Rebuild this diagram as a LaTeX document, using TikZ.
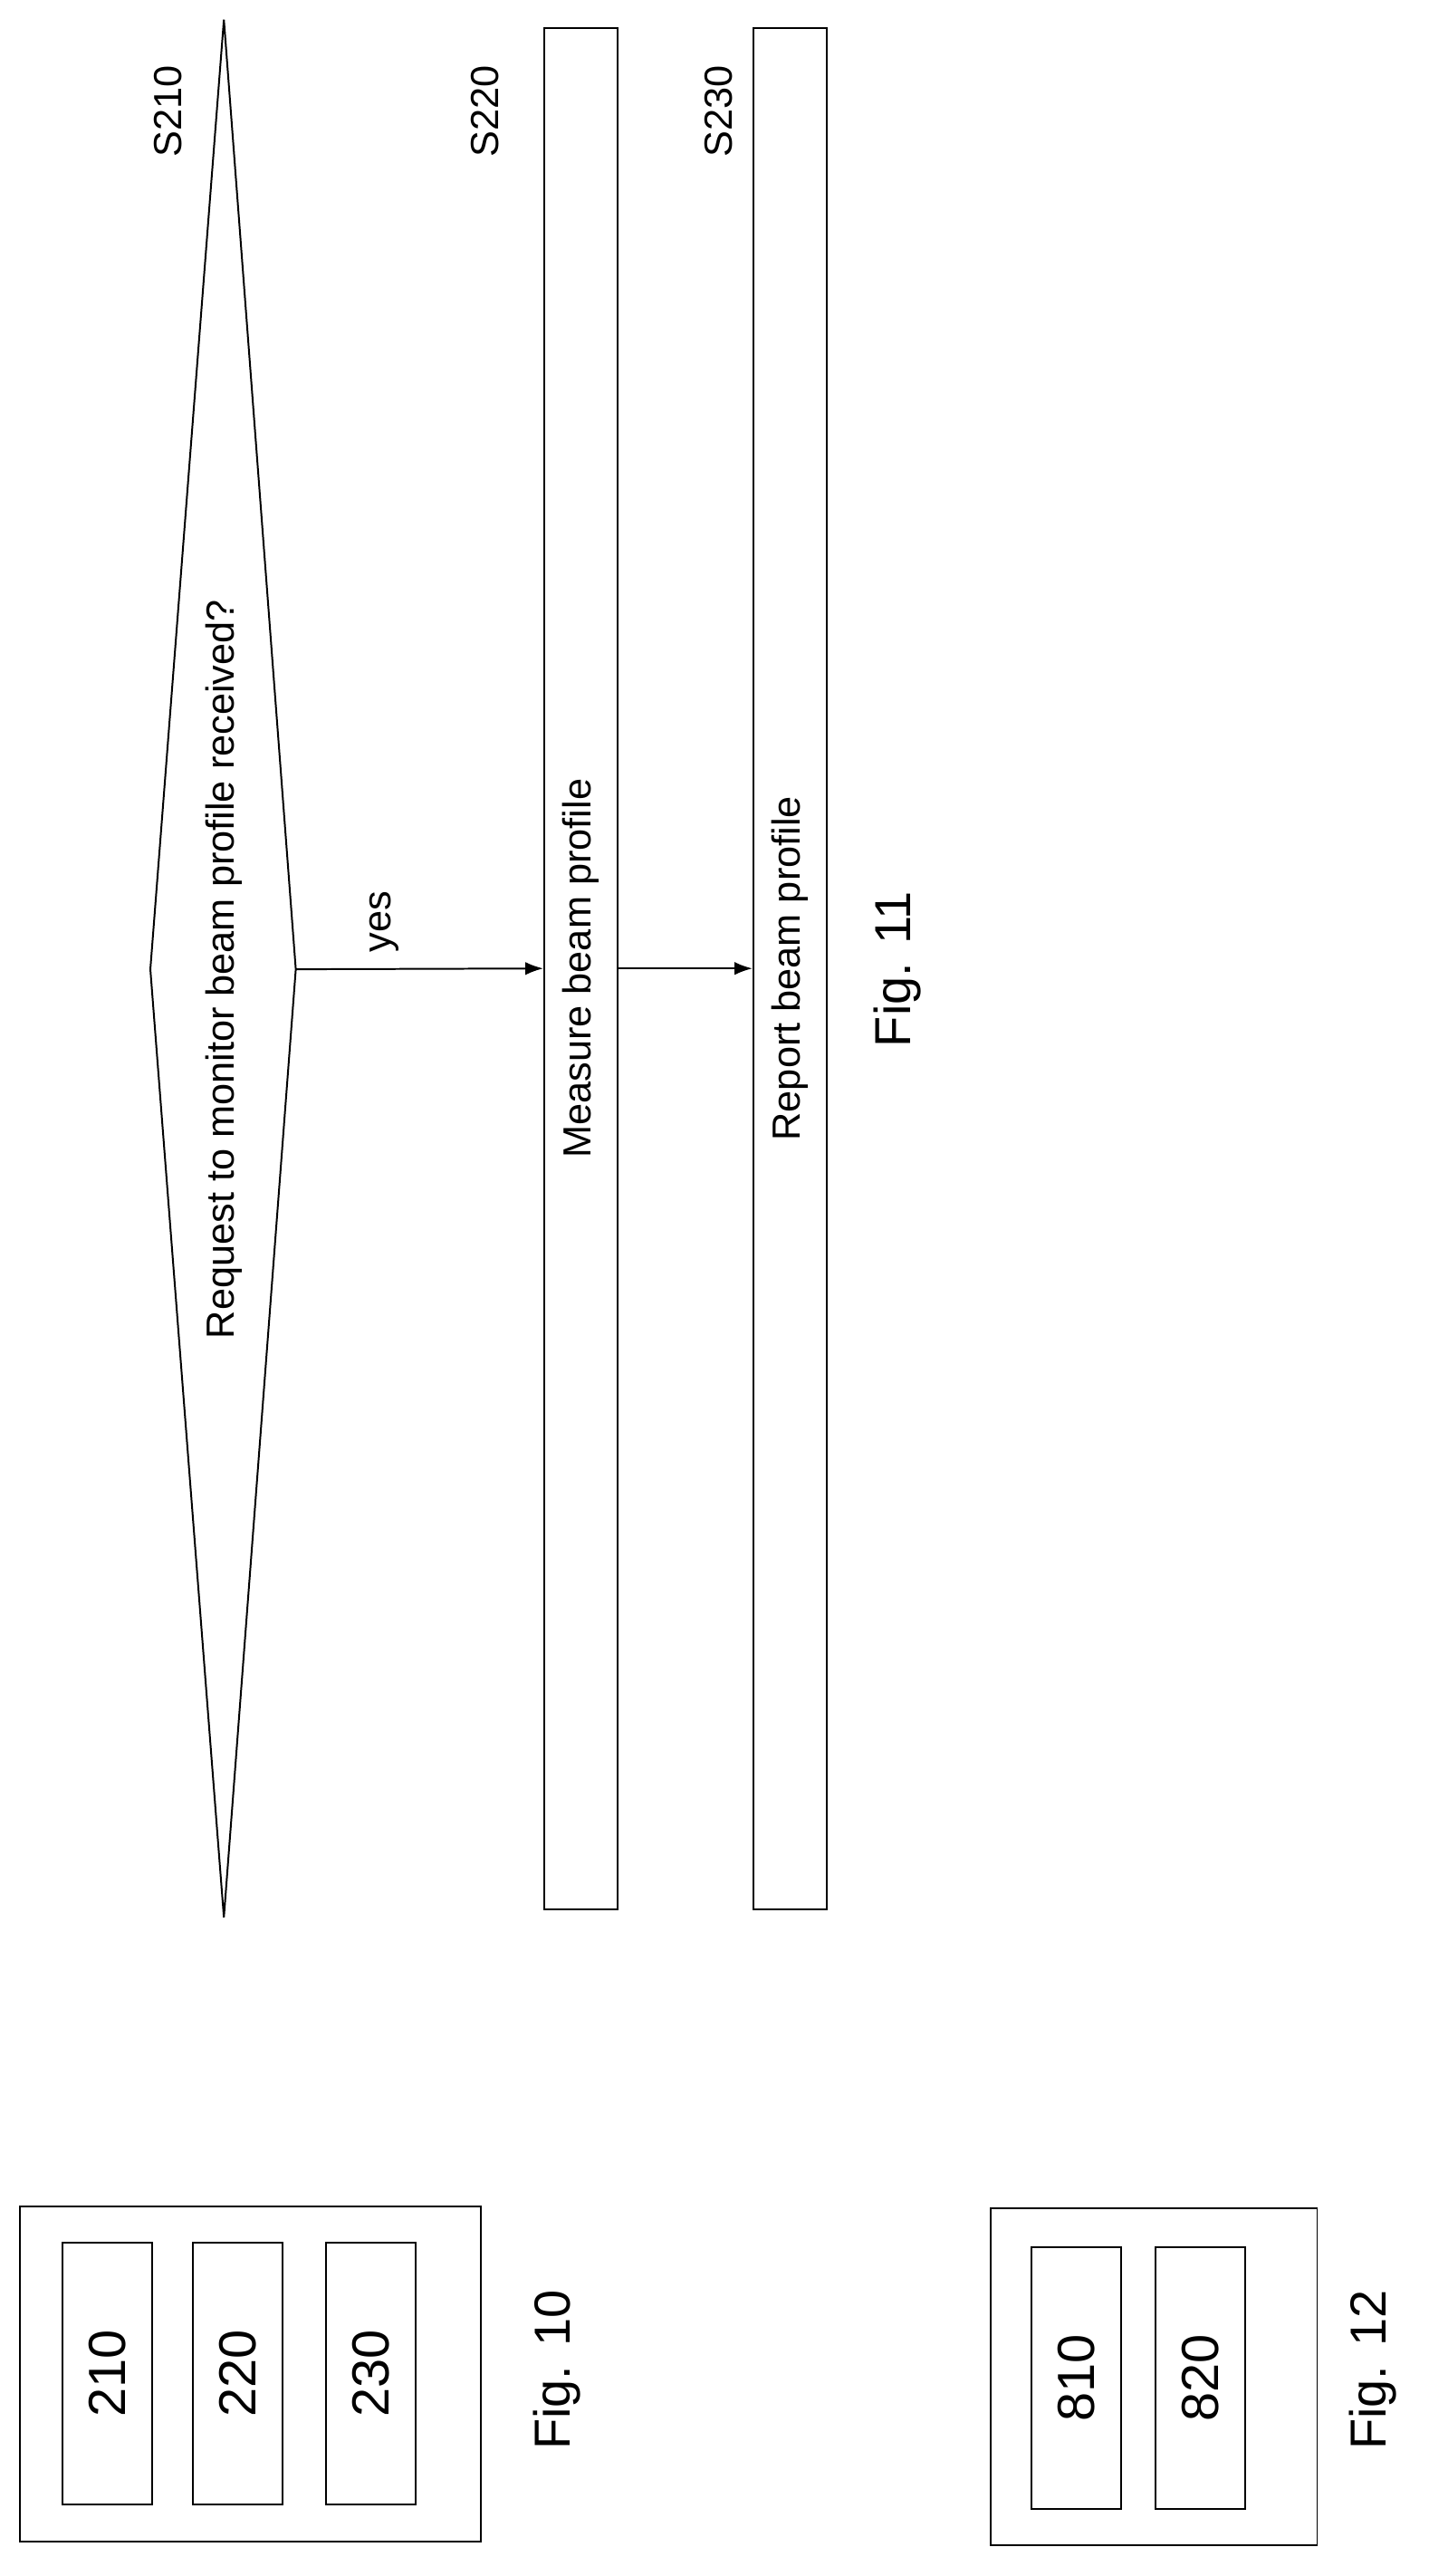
\documentclass[tikz,border=0pt]{standalone}
\usepackage{fontspec}
\setmainfont{Liberation Sans}
\usetikzlibrary{arrows.meta}

\begin{document}
\begin{tikzpicture}[x=1pt,y=-1pt,line width=1.1pt,
                    line/.style={draw},
                    stepbox/.style={draw,rotate=90,minimum width=1151pt,minimum height=45pt,inner sep=0pt,font=\fontsize{24}{28}\selectfont},
                    unitbox/.style={draw,rotate=90,minimum width=160pt,minimum height=55pt,inner sep=0pt,font=\fontsize{32}{36}\selectfont},
                    outerbox/.style={draw,inner sep=0pt},
                    steplabel/.style={rotate=90,font=\fontsize{24}{28}\selectfont},
                    figlabel/.style={rotate=90,font=\fontsize{31}{36}\selectfont},
                    flow/.style={-{Latex[length=11pt,width=8pt]}}]
  \useasboundingbox (0,0) rectangle (874,1576);

  % Fig. 11
  \coordinate (dtop) at (137,12);
  \coordinate (dright) at (181,593);
  \coordinate (dbottom) at (137,1173);
  \coordinate (dleft) at (92,593);
  \draw[line] (dtop) -- (dright) -- (dbottom) -- (dleft) -- cycle;
  \node[steplabel] (q210) at (137,593) {Request to monitor beam profile received?};

  \node[stepbox] (s220) at (355.5,592.5) {Measure beam profile};
  \node[stepbox] (s230) at (483.5,592.5) {Report beam profile};

  \foreach \name/\x in {S210/103,S220/297,S230/440} {
    \node[steplabel] (l\name) at (\x,68) {\name};
  }

  \draw[flow] (dright) -- (s220.north);
  \node[steplabel] (yes) at (235,564) {yes};
  \draw[flow] (s220.south) -- (s230.north);
  \node[figlabel] (fig11) at (549,593) {Fig. 11};

  % Fig. 10
  \node[outerbox,minimum width=282pt,minimum height=205pt] (unit10) at (153,1452.5) {};
  \foreach \lbl/\x in {210/65.5,220/145.5,230/227} {
    \node[unitbox] (u\lbl) at (\x,1452) {\lbl};
  }
  \node[figlabel] (fig10) at (341,1450) {Fig. 10};

  % Fig. 12
  \node[outerbox,minimum width=200pt,minimum height=206pt] (unit12) at (706,1454) {};
  \foreach \lbl/\x in {810/658.5,820/734.5} {
    \node[unitbox] (u\lbl) at (\x,1455) {\lbl};
  }
  \node[figlabel] (fig12) at (840,1450) {Fig. 12};
\end{tikzpicture}
\end{document}
